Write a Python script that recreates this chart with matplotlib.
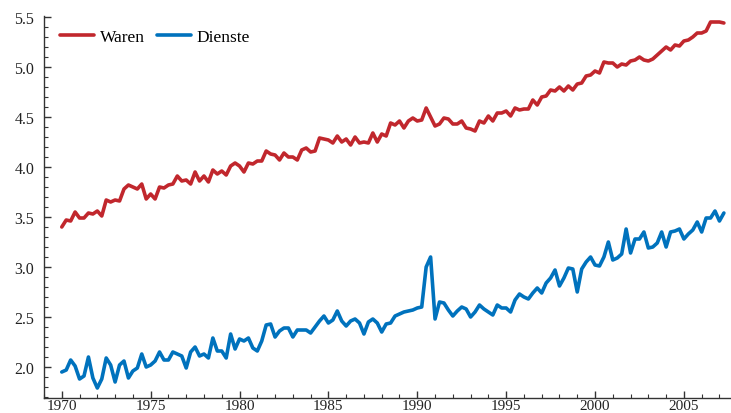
from matplotlib import pyplot as plt
from matplotlib.ticker import MultipleLocator, FormatStrFormatter
import numpy as np

# quarterly values, 1970Q1 .. 2007Q2
waren = [3.40, 3.47, 3.46, 3.55, 3.49, 3.49, 3.54, 3.53, 3.56, 3.51,
         3.67, 3.65, 3.67, 3.66, 3.78, 3.82, 3.80, 3.78, 3.83, 3.68,
         3.73, 3.68, 3.80, 3.79, 3.82, 3.83, 3.91, 3.86, 3.87, 3.83,
         3.95, 3.86, 3.91, 3.85, 3.97, 3.93, 3.96, 3.92, 4.01, 4.04,
         4.01, 3.95, 4.04, 4.03, 4.06, 4.06, 4.16, 4.13, 4.12, 4.07,
         4.14, 4.10, 4.10, 4.07, 4.17, 4.19, 4.15, 4.16, 4.29, 4.28,
         4.27, 4.24, 4.31, 4.25, 4.28, 4.22, 4.30, 4.24, 4.25, 4.24,
         4.34, 4.25, 4.33, 4.31, 4.44,
         4.42, 4.46, 4.39, 4.46, 4.49, 4.46, 4.47, 4.59, 4.50, 4.41,
         4.43, 4.49, 4.48, 4.43, 4.43, 4.46, 4.39, 4.38, 4.36, 4.46,
         4.44, 4.51, 4.46, 4.54, 4.54, 4.56, 4.51, 4.59, 4.57, 4.58,
         4.58, 4.67, 4.62, 4.70, 4.71, 4.77, 4.76, 4.80, 4.76, 4.81,
         4.77, 4.83, 4.84, 4.91, 4.92, 4.96, 4.94, 5.05, 5.04, 5.04,
         5.00, 5.03, 5.02, 5.06, 5.07, 5.10, 5.07, 5.06, 5.08, 5.12,
         5.16, 5.20, 5.17, 5.22, 5.21, 5.26, 5.27, 5.30, 5.34, 5.34,
         5.36, 5.45, 5.45, 5.45, 5.44]

dienste = [1.95, 1.97, 2.07, 2.01, 1.88, 1.91, 2.10, 1.89, 1.79, 1.88,
           2.09, 2.02, 1.85, 2.02, 2.06, 1.89, 1.96, 1.99, 2.13, 2.00,
           2.02, 2.06, 2.15, 2.07, 2.07, 2.15, 2.13, 2.11, 1.99, 2.15,
           2.20, 2.11, 2.13, 2.09, 2.29, 2.16, 2.16, 2.09, 2.33, 2.18,
           2.28, 2.26, 2.29, 2.19, 2.16, 2.26, 2.42, 2.43, 2.30, 2.36,
           2.39, 2.39, 2.30, 2.37, 2.37, 2.37, 2.34, 2.40, 2.46, 2.51,
           2.44, 2.47, 2.56, 2.46, 2.41, 2.46, 2.48, 2.44, 2.33, 2.45,
           2.48, 2.44, 2.35, 2.43, 2.44,
           2.51, 2.53, 2.55, 2.56, 2.57, 2.59, 2.60, 3.00, 3.10, 2.48,
           2.65, 2.64, 2.57, 2.51, 2.56, 2.60, 2.58, 2.50, 2.55, 2.62,
           2.58, 2.55, 2.52, 2.62, 2.59, 2.59, 2.55, 2.67, 2.73, 2.70,
           2.68, 2.74, 2.79, 2.74, 2.84, 2.89, 2.97, 2.81, 2.89, 2.99,
           2.98, 2.75, 2.98, 3.05, 3.10, 3.02, 3.01, 3.10, 3.25, 3.07,
           3.09, 3.13, 3.38, 3.14, 3.28, 3.28, 3.35, 3.19, 3.20, 3.24,
           3.35, 3.20, 3.35, 3.36, 3.38, 3.28, 3.33, 3.37, 3.45, 3.35,
           3.49, 3.49, 3.56, 3.46, 3.54]

labels = ["Waren", "Dienste"]
start_year = 1970

dates = start_year + np.arange(len(waren)) / 4.0

plt.rcParams['font.family'] = ['Liberation Serif', 'DejaVu Serif']
plt.rcParams['font.size'] = 11.5

fig = plt.figure(figsize=(7.31, 4.14), dpi=100)
ax = fig.add_axes([44 / 731, 15 / 414, 1 - 44 / 731, (399 - 17) / 414])

ax.plot(dates, waren, color='#C1272D', lw=2.6, label=labels[0], solid_capstyle='round')
ax.plot(dates, dienste, color='#0072BD', lw=2.6, label=labels[1], solid_capstyle='round')

ax.set_xlim(1969.0, 2007.65)
ax.set_ylim(1.69, 5.51)

ax.xaxis.set_major_locator(MultipleLocator(5))
ax.xaxis.set_minor_locator(MultipleLocator(1))
ax.yaxis.set_major_locator(MultipleLocator(0.5))
ax.yaxis.set_minor_locator(MultipleLocator(0.1))
ax.yaxis.set_major_formatter(FormatStrFormatter('%.1f'))

for side in ['top', 'right']:
    ax.spines[side].set_visible(False)
for side in ['left', 'bottom']:
    ax.spines[side].set_color('#333333')
    ax.spines[side].set_linewidth(1.0)

ax.tick_params(which='both', direction='in', color='#333333', labelcolor='#222222')
ax.tick_params(which='major', length=5, width=1)
ax.tick_params(which='minor', length=3, width=0.8)
ax.tick_params(axis='x', pad=0.5, labelsize=11)
ax.tick_params(axis='y', pad=7)

ax.legend(loc='upper left', ncol=2, frameon=False, handlelength=2.0,
          handletextpad=0.3, columnspacing=0.7, fontsize=12.5,
          bbox_to_anchor=(0.0, 1.008))

plt.savefig('out.png', dpi=100)
